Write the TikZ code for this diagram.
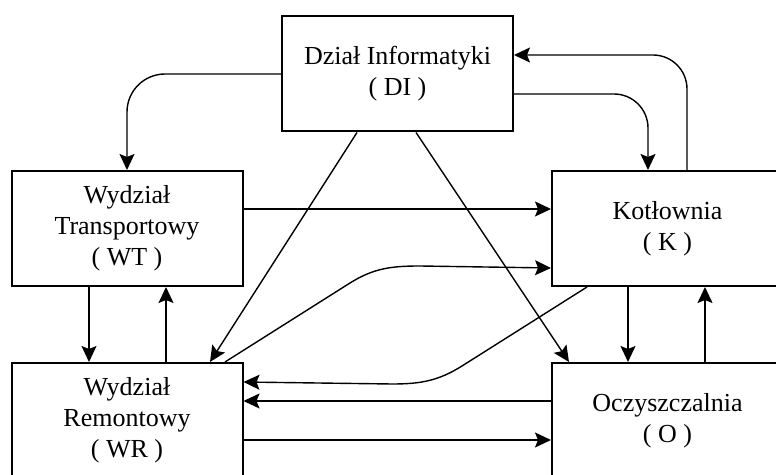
\documentclass[tikz,border=0pt]{standalone}
\usepackage{fontspec}
\setmainfont{Liberation Serif}
\usetikzlibrary{arrows.meta,calc}
\tikzset{
  dept/.style={draw, line width=1pt, minimum width=115.5pt, minimum height=57.5pt,
    inner sep=0pt, align=center, font=\fontsize{13pt}{15.5pt}\selectfont},
  flow/.style={line width=0.7pt, -{Stealth[length=8pt,width=7.5pt,inset=1.5pt]}},
}
\begin{document}
\begin{tikzpicture}[x=0.5pt,y=0.5pt]
\clip (0,0) rectangle (776,-475); % page size of the reference
\node[dept] (DI) at (397.5,-74) {Dział Informatyki\\( DI )};
\node[dept] (WT) at (127,-228.5) {Wydział\\Transportowy\\( WT )};
\node[dept] (K) at (667.5,-228.5) {Kotłownia\\( K )};
\node[dept] (WR) at (127,-420.5) {Wydział\\Remontowy\\( WR )};
\node[dept] (O) at (667.5,-420.5) {Oczyszczalnia\\( O )};
% links of the top box
\draw[flow, rounded corners=19pt] (DI.west) -| (WT.north);
\draw[flow, rounded corners=17pt] ($(K.north)+(19.5,0)$) |- ($(DI.east)+(0,19)$);
\draw[flow, rounded corners=17pt] ($(DI.east)+(0,-20)$) -| ($(K.north)+(-19.5,0)$);
\draw[flow] ($(DI.south west)+(76,0)$) -- ($(WR.north)+(83,0)$);
\draw[flow] ($(DI.south west)+(135,0)$) -- ($(O.north west)+(18,0)$);
% left and right columns
\draw[flow] ($(WT.east)+(0,19.5)$) -- ($(K.west)+(0,19.5)$);
\draw[flow] ($(WT.south)+(-38,0)$) -- ($(WR.north)+(-38,0)$);
\draw[flow] ($(WR.north)+(39,0)$) -- ($(WT.south)+(39,0)$);
\draw[flow] ($(K.south west)+(77,0)$) -- ($(O.north west)+(77,0)$);
\draw[flow] ($(O.north west)+(154,0)$) -- ($(K.south west)+(154,0)$);
% crossing curves
\draw[flow] ($(WR.north)+(98,0)$) -- ++(125,79) to[out=32,in=180] ++(70,17)
  -- ($(K.south west)+(0,19)$);
\draw[flow] ($(K.south west)+(36,0)$) -- ++(-125,-79) to[out=212,in=0] ++(-70,-18)
  -- ($(WR.north east)+(0,-20)$);
% bottom row
\draw[flow] ($(O.north west)+(0,-39)$) -- ($(WR.north east)+(0,-39)$);
\draw[flow] ($(WR.north east)+(0,-78)$) -- ($(O.north west)+(0,-78)$);
\end{tikzpicture}
\end{document}
